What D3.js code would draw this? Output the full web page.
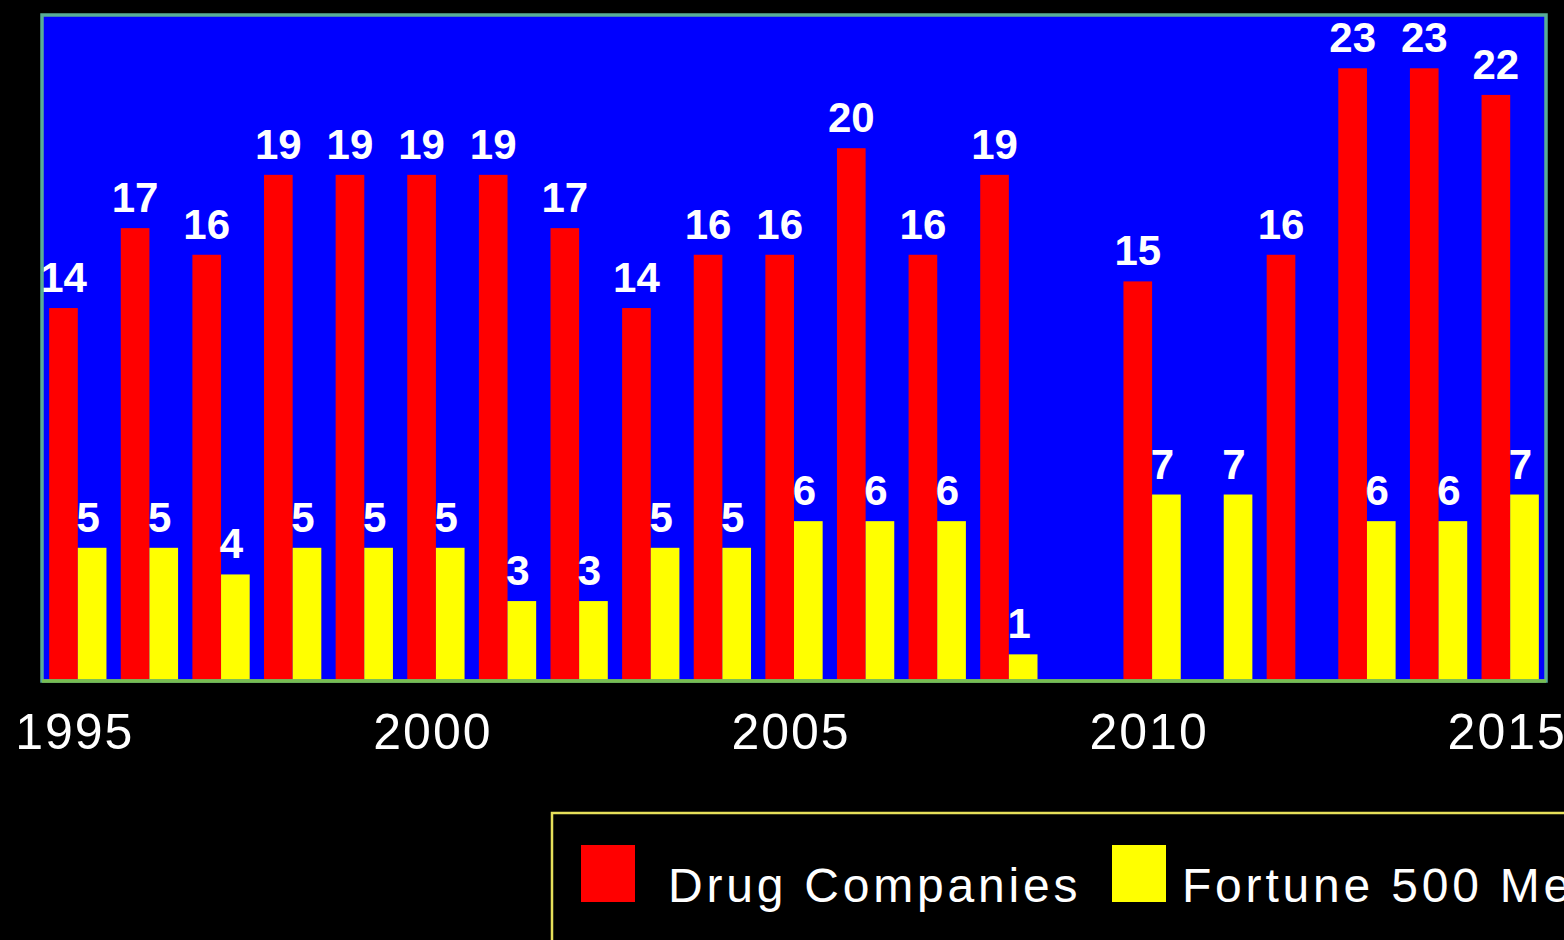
<!DOCTYPE html>
<html>
<head>
<meta charset="utf-8">
<script src="https://cdn.jsdelivr.net/npm/d3@7"></script>
<style>
  html, body { margin: 0; padding: 0; background: #000; overflow: hidden; }
  svg { display: block; }
</style>
</head>
<body>
<svg id="chart" width="1564" height="940"></svg>
<script>
// Years on the x axis
const years = ["1995","1996","1997","1998","1999","2000","2001","2002","2003","2004",
               "2005","2006","2007","2008","2009","2010","2011","2012","2013","2014","2015"];
// Profits as % of revenue (null = no figure for that year)
const drugCompanies = [14,17,16,19,19,19,19,17,14,16,16,20,16,19,null,15,null,16,23,23,22];
const fortune500    = [5,5,4,5,5,5,3,3,5,5,6,6,6,1,null,7,7,null,6,6,7];
// Labelled years on the axis
const tickLabels = ["1995","2000","2005","2010","2015"];
// Series names and colours
const seriesNames  = ["Drug Companies", "Fortune 500 Median"];
const seriesColors = ["#ff0000", "#ffff00"];

const svg = d3.select("#chart");
const plot = { left: 42, right: 1546, top: 15, bottom: 681 };

const x0 = d3.scaleBand()
  .domain(years)
  .range([plot.left, plot.right])
  .paddingInner(0.2)
  .paddingOuter(0.1);

const x1 = d3.scaleBand()
  .domain([0, 1])
  .range([0, x0.bandwidth()]);

const y = d3.scaleLinear()
  .domain([0, 25])
  .range([plot.bottom, plot.top]);

const color = d3.scaleOrdinal().domain([0, 1]).range(seriesColors);

// Plot background
svg.append("rect")
  .attr("x", plot.left).attr("y", plot.top)
  .attr("width", plot.right - plot.left)
  .attr("height", plot.bottom - plot.top)
  .attr("fill", "#0000ff");

const rows = years.map((yr, i) => ({ year: yr, values: [drugCompanies[i], fortune500[i]] }));

const groups = svg.append("g").selectAll("g")
  .data(rows)
  .join("g")
  .attr("transform", d => `translate(${x0(d.year)},0)`);

const cells = groups.selectAll("g")
  .data(d => d.values.map((v, k) => ({ k, v })).filter(e => e.v != null))
  .join("g");

cells.append("rect")
  .attr("x", d => x1(d.k))
  .attr("y", d => y(d.v))
  .attr("width", x1.bandwidth())
  .attr("height", d => y(0) - y(d.v))
  .attr("fill", d => color(d.k));

cells.append("text")
  .attr("x", d => x1(d.k) + x1.bandwidth() / 2 + (d.k === 1 ? -4 : 0))
  .attr("y", d => y(d.v) - 16)
  .attr("text-anchor", "middle")
  .attr("fill", "#ffffff")
  .style("font-family", "'Liberation Sans', Arial, sans-serif")
  .style("font-weight", "bold")
  .style("font-size", "42px")
  .text(d => d.v);

// Plot frame
svg.append("rect")
  .attr("x", plot.left).attr("y", plot.top)
  .attr("width", plot.right - plot.left)
  .attr("height", plot.bottom - plot.top)
  .attr("fill", "none")
  .attr("stroke", "#58ad98")
  .attr("stroke-width", 3.5);

svg.append("line")
  .attr("x1", plot.left).attr("x2", plot.right)
  .attr("y1", plot.bottom).attr("y2", plot.bottom)
  .attr("stroke", "#78bd52")
  .attr("stroke-width", 3.5);

// X axis
const xAxis = svg.append("g")
  .attr("transform", `translate(0,${plot.bottom})`)
  .call(d3.axisBottom(x0).tickValues(tickLabels).tickSize(0));
xAxis.select(".domain").remove();
xAxis.selectAll("text")
  .attr("x", -3)
  .attr("y", 68)
  .attr("dy", 0)
  .attr("fill", "#ffffff")
  .style("font-family", "'Liberation Sans', Arial, sans-serif")
  .style("font-size", "50px")
  .style("letter-spacing", "2px");

// Legend
const legend = svg.append("g");
legend.append("rect")
  .attr("x", 552).attr("y", 813)
  .attr("width", 1100).attr("height", 200)
  .attr("fill", "#000")
  .attr("stroke", "#e6df5a")
  .attr("stroke-width", 2.5);

const legendItems = [
  { sx: 581, tx: 668 },
  { sx: 1112, tx: 1182 }
];
legendItems.forEach((it, k) => {
  legend.append("rect")
    .attr("x", it.sx).attr("y", 845)
    .attr("width", 54).attr("height", 57)
    .attr("fill", seriesColors[k]);
  legend.append("text")
    .attr("x", it.tx).attr("y", 902)
    .attr("fill", "#ffffff")
    .style("font-family", "'Liberation Sans', Arial, sans-serif")
    .style("font-size", "48px")
    .style("letter-spacing", "3.8px")
    .text(seriesNames[k]);
});
</script>
</body>
</html>
